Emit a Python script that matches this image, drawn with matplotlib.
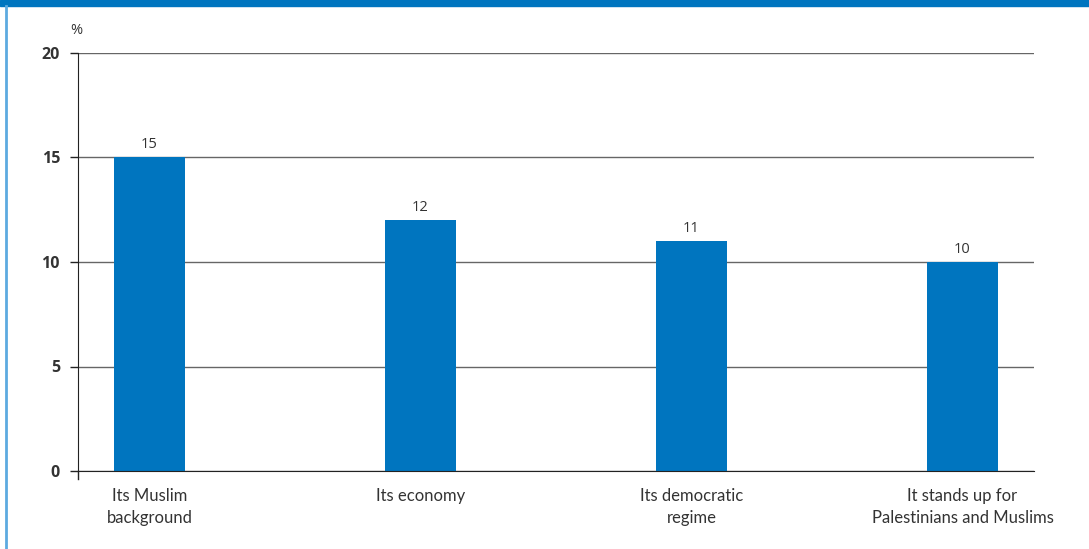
import matplotlib.pyplot as plt
from matplotlib.lines import Line2D
from matplotlib.patches import Rectangle

# Reasons given, share of respondents (%)
categories = ["Its Muslim\nbackground", "Its economy", "Its democratic\nregime",
              "It stands up for\nPalestinians and Muslims"]
values = [15, 12, 11, 10]
yticks = [0, 5, 10, 15, 20]

BLUE = "#0075BF"
TEXT = "#333333"

fig = plt.figure(figsize=(10.89, 5.49), dpi=100)

# frame: dark blue strip on top, thin light-blue rule on the left
fig.add_artist(Rectangle((0, 1 - 6 / 549), 1, 6 / 549, transform=fig.transFigure,
                         color=BLUE, zorder=0))
fig.add_artist(Line2D([6 / 1089, 6 / 1089], [0, 1 - 6 / 549], transform=fig.transFigure,
                      color="#5DAAE0", lw=2))

ax = fig.add_axes([78 / 1089, 1 - 471 / 549, 956 / 1089, 418 / 549])
x = range(len(categories))
ax.bar(x, values, width=0.262, color=BLUE, zorder=3)

for xi, v in zip(x, values):
    ax.text(xi, v + 0.25, str(v), ha="center", va="bottom", fontsize=10.5,
            family="Open Sans", color=TEXT)

ax.set_xlim(-0.264, 3.264)
ax.set_ylim(0, 20)
ax.set_yticks(yticks)
ax.set_yticklabels([str(t) for t in yticks], fontsize=11.5, fontweight="bold",
                   family="Open Sans", color=TEXT)
ax.tick_params(axis="y", length=6, width=1, color="#222222", pad=7)
ax.set_xticks(list(x))
ax.set_xticklabels(categories, fontsize=12, family="Lato", color=TEXT, linespacing=1.45)
ax.tick_params(axis="x", length=0, pad=12)

ax.grid(axis="y", color="#666666", lw=1, zorder=1)
for s in ["top", "right"]:
    ax.spines[s].set_visible(False)
ax.spines["left"].set_color("#222222")
ax.spines["bottom"].set_color("#222222")
ax.spines["left"].set_zorder(4)
ax.spines["bottom"].set_zorder(4)

# left axis runs a little below the baseline
ax.plot([0, 0], [0, -0.018], transform=ax.transAxes, color="#222222", lw=1, clip_on=False)

ax.text(-0.002, 1.055, "%", transform=ax.transAxes, ha="center", va="center",
        fontsize=10.5, family="Open Sans", color=TEXT)

fig.savefig("out.png", dpi=100)
